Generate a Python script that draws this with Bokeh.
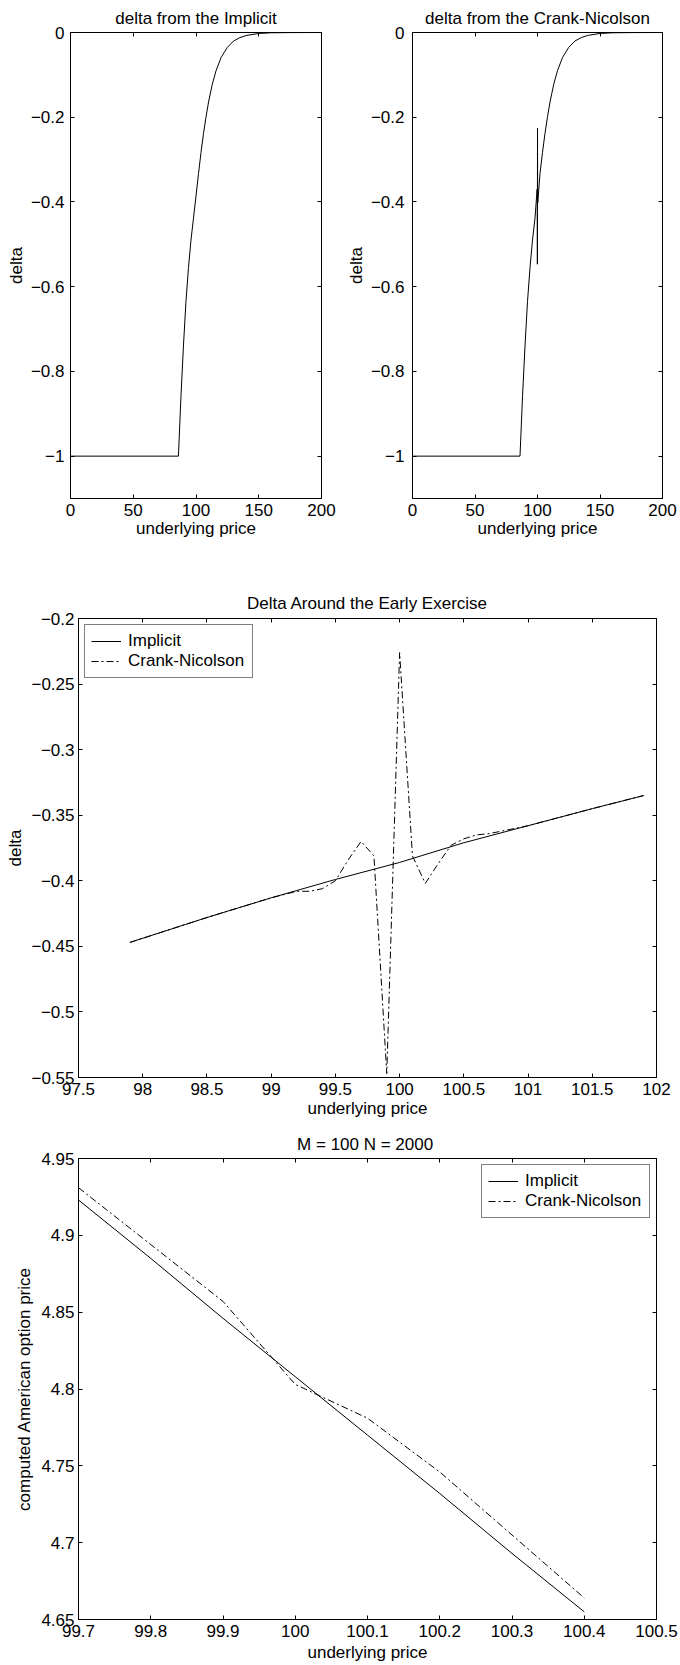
from bokeh.plotting import figure
from bokeh.layouts import column, row
from bokeh.models import (Range1d, FixedTicker, LinearAxis, CustomJSTickFormatter,
                          Title, Legend, LegendItem)
from bokeh.embed import file_html
from bokeh.resources import INLINE

# ---------------- data ----------------
# Panel 1: delta from the implicit scheme (full price range)
delta_x = [0, 86, 88, 90, 92, 94, 96, 98, 100, 102, 104, 106, 108, 110, 113, 116,
           120, 125, 130, 135, 140, 150, 160, 175, 200]
delta_implicit = [-1.0, -1.0, -0.86, -0.74, -0.635, -0.555, -0.49, -0.438, -0.386, -0.333,
                  -0.283, -0.238, -0.199, -0.164, -0.122, -0.090, -0.059, -0.035, -0.020,
                  -0.012, -0.007, -0.0023, -0.0007, -0.0002, 0.0]

# Panel 2: delta from Crank-Nicolson (full price range, oscillation at 100)
cn_delta_x = [0, 86, 88, 90, 92, 94, 96, 98, 99.7, 99.8, 99.9, 100.0, 100.1, 100.2,
              102, 104, 106, 108, 110, 113, 116, 120, 125, 130, 135, 140, 150, 160, 175, 200]
cn_delta = [-1.0, -1.0, -0.86, -0.74, -0.635, -0.555, -0.49, -0.438, -0.370, -0.381, -0.547,
            -0.226, -0.381, -0.402, -0.333, -0.283, -0.238, -0.199, -0.164, -0.122, -0.090,
            -0.059, -0.035, -0.020, -0.012, -0.007, -0.0023, -0.0007, -0.0002, 0.0]

# Panel 3: delta around the early exercise
near_x_implicit = [97.9, 98.5, 99.0, 99.5, 100.0, 100.5, 101.0, 101.5, 101.9]
near_delta_implicit = [-0.447, -0.428, -0.413, -0.399, -0.386, -0.371, -0.358, -0.345, -0.335]
near_x_cn = [97.9, 98.5, 99.0, 99.2, 99.3, 99.4, 99.5, 99.6, 99.7, 99.8, 99.9, 100.0,
             100.1, 100.2, 100.3, 100.4, 100.5, 100.6, 100.7, 100.8, 101.0, 101.5, 101.9]
near_delta_cn = [-0.447, -0.428, -0.413, -0.408, -0.408, -0.406, -0.400, -0.384, -0.370,
                 -0.381, -0.547, -0.226, -0.381, -0.402, -0.387, -0.373, -0.368, -0.365,
                 -0.364, -0.362, -0.358, -0.345, -0.335]

# Panel 4: computed American option price, M = 100, N = 2000
price_x = [99.7, 99.8, 99.9, 100.0, 100.1, 100.2, 100.3, 100.4]
price_implicit = [4.923, 4.885, 4.846, 4.808, 4.770, 4.732, 4.693, 4.655]
price_cn = [4.931, 4.894, 4.857, 4.803, 4.781, 4.746, 4.705, 4.664]

# tick values
ticks_full_x = [0, 50, 100, 150, 200]
ticks_full_y = [-1, -0.8, -0.6, -0.4, -0.2, 0]
ticks_near_x = [97.5, 98, 98.5, 99, 99.5, 100, 100.5, 101, 101.5, 102]
ticks_near_y = [-0.55, -0.5, -0.45, -0.4, -0.35, -0.3, -0.25, -0.2]
ticks_price_x = [99.7, 99.8, 99.9, 100, 100.1, 100.2, 100.3, 100.4, 100.5]
ticks_price_y = [4.65, 4.7, 4.75, 4.8, 4.85, 4.9, 4.95]

# ---------------- styling helpers ----------------
FONT = "Liberation Sans"
FS = "17px"
CN_DASH = "7 3 2 3"

NUM_JS = r"""
const s = parseFloat(Math.abs(tick).toFixed(6)).toString();
return (tick < -1e-9 ? "\u2212" : "") + s;
"""


def style_axis(ax):
    ax.major_tick_in = 4
    ax.major_tick_out = 0
    ax.minor_tick_line_color = None
    ax.axis_line_color = "black"
    ax.axis_line_width = 1
    ax.major_tick_line_color = "black"
    ax.major_label_text_font = FONT
    ax.major_label_text_font_size = FS
    ax.major_label_text_color = "black"
    ax.axis_label_text_font = FONT
    ax.axis_label_text_font_size = FS
    ax.axis_label_text_font_style = "normal"
    ax.axis_label_text_color = "black"


def make_fig(width, height, mb, xr, yr, xt, yt, title, title_standoff,
             xlabel, ylabel, y_std, y_lab_std, x_std, x_lab_std):
    p = figure(width=width, height=height, output_backend="svg", toolbar_location=None,
               title=None, x_range=Range1d(*xr), y_range=Range1d(*yr),
               min_border_left=mb[0], min_border_right=mb[1],
               min_border_top=mb[2], min_border_bottom=mb[3],
               background_fill_color="white", border_fill_color="white",
               outline_line_color="black", outline_line_width=1)
    p.xgrid.visible = False
    p.ygrid.visible = False
    p.xaxis.ticker = FixedTicker(ticks=xt)
    p.yaxis.ticker = FixedTicker(ticks=yt)
    p.xaxis.formatter = CustomJSTickFormatter(code=NUM_JS)
    p.yaxis.formatter = CustomJSTickFormatter(code=NUM_JS)
    p.xaxis.axis_label = xlabel
    p.yaxis.axis_label = ylabel
    style_axis(p.xaxis[0])
    style_axis(p.yaxis[0])
    p.xaxis.major_label_standoff = x_std
    p.xaxis.axis_label_standoff = x_lab_std
    p.yaxis.major_label_standoff = y_std
    p.yaxis.axis_label_standoff = y_lab_std

    top = LinearAxis(ticker=FixedTicker(ticks=xt),
                     formatter=CustomJSTickFormatter(code="return '';"))
    right = LinearAxis(ticker=FixedTicker(ticks=yt),
                       formatter=CustomJSTickFormatter(code="return '';"))
    for ax in (top, right):
        style_axis(ax)
        ax.major_label_text_font_size = "0px"
        ax.major_label_standoff = 0
    p.add_layout(top, "above")
    p.add_layout(right, "right")
    p.add_layout(Title(text=title, align="center", text_font=FONT, text_font_size=FS,
                       text_font_style="normal", text_color="black",
                       standoff=title_standoff), "above")
    return p


def style_legend(leg):
    leg.border_line_color = "black"
    leg.border_line_width = 1.5
    leg.label_text_font = FONT
    leg.label_text_font_size = FS
    leg.label_text_color = "black"
    leg.glyph_width = 30
    leg.glyph_height = 16
    leg.label_height = 16
    leg.label_width = 118
    leg.label_standoff = 7
    leg.padding = 6
    leg.spacing = 0
    leg.margin = 6
    leg.background_fill_alpha = 1


# ---------------- panel 1 ----------------
p1 = make_fig(340, 548, (70, 19, 32, 50), (0, 200), (-1.1, 0),
              ticks_full_x, ticks_full_y, "delta from the Implicit", 9,
              "underlying price", "delta", 6, 2, 5, 0)
p1.line(delta_x, delta_implicit, line_color="black", line_width=1)

# ---------------- panel 2 ----------------
p2 = make_fig(340, 548, (72, 18, 32, 50), (0, 200), (-1.1, 0),
              ticks_full_x, ticks_full_y, "delta from the Crank-Nicolson", 9,
              "underlying price", "delta", 8, 2, 5, 0)
p2.line(cn_delta_x, cn_delta, line_color="black", line_width=1)

# ---------------- panel 3 ----------------
p3 = make_fig(680, 576, (78, 18, 70, 47), (97.5, 102), (-0.55, -0.2),
              ticks_near_x, ticks_near_y, "Delta Around the Early Exercise", 11,
              "underlying price", "delta", 4, 3, 5, 1)
r31 = p3.line(near_x_implicit, near_delta_implicit, line_color="black", line_width=1)
r32 = p3.line(near_x_cn, near_delta_cn, line_color="black", line_width=1, line_dash=CN_DASH)
leg3 = Legend(items=[LegendItem(label="Implicit", renderers=[r31]),
                     LegendItem(label="Crank-Nicolson", renderers=[r32])],
              location="top_left")
style_legend(leg3)
p3.add_layout(leg3)

# ---------------- panel 4 ----------------
p4 = make_fig(680, 541, (69, 24, 34, 46), (99.7, 100.5), (4.65, 4.95),
              ticks_price_x, ticks_price_y, "M =  100 N = 2000", 10,
              "underlying price", "computed American option price", 4, 4, 5, 3)
r41 = p4.line(price_x, price_implicit, line_color="black", line_width=1)
r42 = p4.line(price_x, price_cn, line_color="black", line_width=1, line_dash=CN_DASH)
leg4 = Legend(items=[LegendItem(label="Implicit", renderers=[r41]),
                     LegendItem(label="Crank-Nicolson", renderers=[r42])],
              location="top_right")
style_legend(leg4)
p4.add_layout(leg4)

layout = column(row(p1, p2), p3, p4)

open("out.html", "w").write(file_html(layout, INLINE))
